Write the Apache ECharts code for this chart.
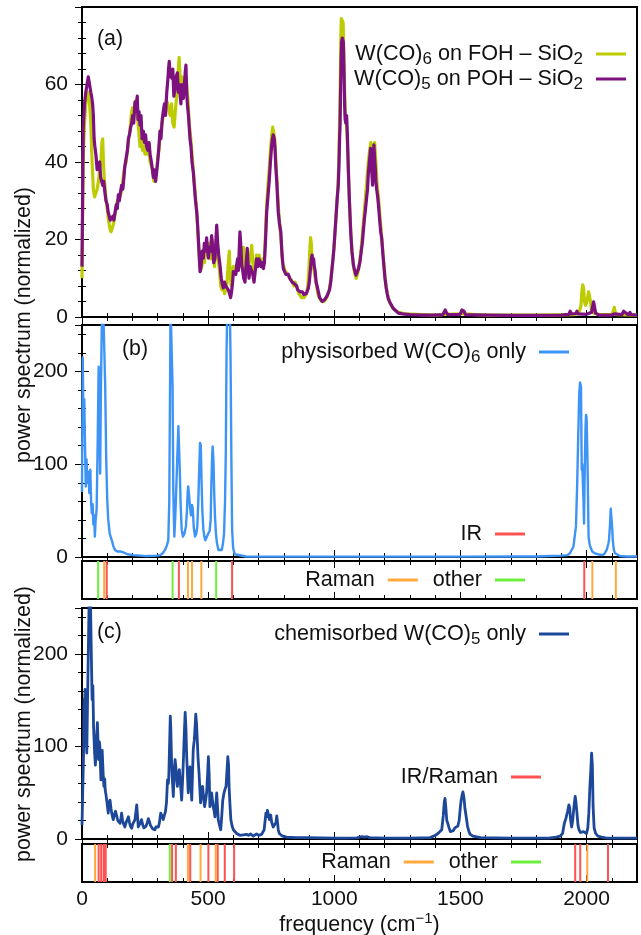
<!DOCTYPE html>
<html><head><meta charset="utf-8">
<script src="https://cdn.jsdelivr.net/npm/echarts@6/dist/echarts.min.js"></script>
<style>html,body{margin:0;padding:0;background:#fff}#c{width:641px;height:935px}</style>
</head><body><div id="c"></div>
<script>
// ---------------- data ----------------
const xTicks = [0, 500, 1000, 1500, 2000];
// panel (a): W(CO)6 on FOH-SiO2 (yellow-green)
const fohSpectrum = [[0,10],[3,30],[5,42],[10,50],[15,55],[20,57],[25,58],[30,55],[35,50],[40,40],[45,33],[50,31],[55,31],[60,33],[65,35],[70,38],[75,40],[79,45],[82,46],[85,40],[88,36],[92,33],[96,30],[100,28],[105,25],[110,23],[115,22],[120,22],[125,24],[130,26],[135,28],[140,30],[145,30],[150,31],[155,32],[160,34],[165,37],[170,39],[175,40],[180,43],[185,46],[190,48],[195,52],[200,54],[205,52],[210,55],[215,56],[220,52],[225,48],[230,44],[235,46],[240,43],[245,44],[250,42],[255,45],[260,42],[265,43],[270,40],[275,39],[280,38],[285,35],[290,36],[295,37],[300,41],[305,43],[310,47],[315,49],[320,51],[325,53],[330,54],[335,56],[340,55],[345,53],[350,52],[355,55],[360,50],[365,49],[370,53],[375,57],[380,62],[385,67],[388,63],[392,60],[396,62],[400,57],[405,60],[410,62],[415,60],[420,56],[425,50],[430,47],[435,43],[440,39],[445,35],[450,31],[455,27],[460,21],[465,16],[470,12],[475,13],[480,16],[485,14],[490,18],[495,16],[500,17],[505,19],[510,15],[515,20],[520,17],[525,13],[530,17],[535,20],[540,15],[545,12],[550,8],[555,7],[560,8],[565,6],[570,7],[575,9],[580,14],[584,17],[588,10],[592,8],[596,11],[600,13],[605,11],[610,13],[615,12],[620,14],[625,16],[630,13],[635,16],[640,18],[645,12],[650,14],[655,16],[660,13],[665,15],[670,17],[673,18.5],[677,14],[682,12],[687,13],[692,16],[697,14],[702,16],[707,14],[712,13],[717,15],[722,14],[727,21],[732,29],[737,34],[742,38],[747,43],[752,47],[756,49],[760,48.5],[764,46],[768,41],[772,36],[776,31],[780,27],[785,23],[790,19],[795,14],[800,13],[805,12],[810,12],[815,11],[820,11],[825,10],[830,10],[835,9],[840,8],[845,9],[850,8],[855,7],[860,6],[865,5.5],[870,5],[875,5],[880,5],[885,5],[890,6],[895,8],[899,12],[903,17],[906,20.5],[909,19],[912,15],[916,13],[920,12],[925,10],[930,8],[935,6],[940,5],[945,4.5],[950,4],[955,4],[960,4],[965,4.5],[970,5],[975,6],[980,7],[985,9],[990,12],[995,15],[1000,19],[1005,24],[1010,29],[1014,33],[1018,40],[1021,50],[1024,62],[1026,72],[1028,77],[1032,77],[1035,76],[1038,68],[1041,58],[1044,52],[1048,50],[1052,45],[1055,40],[1060,30],[1065,23],[1070,17],[1076,13],[1082,11],[1087,10],[1092,11],[1098,13],[1104,16],[1110,20],[1115,24],[1120,28],[1125,32],[1130,36],[1135,40],[1140,43],[1145,45],[1150,45],[1155,43],[1160,45],[1165,40],[1170,34],[1175,31],[1180,27],[1185,23],[1190,19],[1195,15],[1200,11],[1205,8],[1210,6],[1215,4.5],[1222,3.5],[1230,2.5],[1240,1.8],[1255,1.2],[1280,0.8],[1350,0.6],[1400,0.5],[1438,0.7],[1442,1.2],[1446,0.7],[1506,0.8],[1510,1.5],[1514,0.8],[1600,0.5],[1800,0.5],[1950,0.6],[1970,1],[1978,3],[1982,7],[1985,8.3],[1988,7.5],[1992,4],[1996,3],[2002,4],[2008,6.5],[2012,6.5],[2016,4],[2020,1.5],[2030,1],[2050,0.6],[2100,0.7],[2106,1.5],[2110,2.5],[2114,1.2],[2120,0.6],[2200,0.5]];
// panel (a): W(CO)5 on POH-SiO2 (purple)
const pohSpectrum = [[0,13],[3,35],[5,49],[10,55],[15,58],[20,60],[25,62],[30,60],[35,58],[38,57],[42,55],[45,52],[48,46],[51,44],[55,42],[60,38],[65,37.5],[70,40],[74,36],[78,36],[82,34],[86,35],[91,32],[95,30],[100,29],[104,27],[108,26],[112,25],[118,24.5],[122,26],[126,25],[131,27],[136,29],[140,28],[144,31.5],[148,30],[152,32],[157,34],[162,33],[166,36],[170,39],[175,41],[180,43],[184,46],[188,47],[193,49],[197,50],[201,52],[205,50],[210,55.5],[214,53],[219,57],[222,51],[226,53],[230,49.5],[234,52],[238,46],[243,48],[248,45],[252,47],[256,44],[261,43],[266,45],[270,42],[275,40],[279,38],[283,36],[287,38],[292,35],[296,37.5],[300,40],[305,44],[309,48],[313,46],[318,51],[322,53],[327,55],[331,52],[336,58],[340,61],[343,64],[346,66],[349,62],[353,63],[356,61.6],[360,64],[364,57],[369,59],[373,62],[378,63],[382,58],[386,60],[388,58],[392,55],[396,60],[399,58],[402,56.4],[406,60],[409,63],[412,65],[415,58],[418,54.7],[422,52],[425,49],[428,46],[432,44],[436,40],[441,37.5],[445,34],[450,30],[455,27],[458,24],[461,20.4],[465,15],[468,11.7],[472,13],[476,17],[481,15.2],[485,19],[490,17],[494,20.4],[497,18],[501,15.2],[505,18],[510,17],[514,21],[518,18],[522,14],[527,15.2],[531,20],[534,23.7],[538,19],[542,16],[547,13.4],[552,10],[556,8.5],[560,7.5],[565,9],[570,8],[575,8.5],[580,7],[585,6],[589,5],[593,6.5],[597,9],[600,11.7],[606,12],[610,11],[613,13.4],[617,15],[620,12],[623,17],[626,22],[630,18],[633,13.4],[637,12],[641,10],[646,9],[650,13],[655,17.7],[658,14],[662,10],[667,13],[673,12.5],[677,11],[682,9],[687,12],[692,15],[697,13],[701,15],[706,14.3],[710,13],[715,14],[719,12.5],[723,14],[727,19],[732,27],[737,31],[742,35],[747,40],[752,44.4],[755,46],[758,47],[762,46],[765,43.5],[768,39],[772,35],[775,31],[778,27],[783,24],[788,22],[793,16],[798,12.5],[803,12],[808,11],[813,11.5],[818,11],[823,10],[828,10.5],[833,9],[838,9],[843,8.5],[847,8],[851,8],[855,7],[860,7.5],[864,6.5],[869,6],[874,6.5],[879,5.8],[884,5.8],[889,6],[893,6.5],[897,7.4],[901,9],[905,12],[909,15],[912,16],[915,14],[918,15],[921,13],[924,12],[928,9],[932,8],[937,6.5],[942,5],[947,4.5],[952,4],[957,4],[962,4.5],[967,5],[972,5.5],[977,5.8],[981,7],[986,9],[990,11.7],[995,15],[999,18],[1003,22],[1008,27],[1012,31],[1016,34],[1019,40],[1021,46],[1023,49.5],[1025,58],[1027,66],[1029,71],[1032,72],[1036,71],[1039,62],[1041,55],[1043,51],[1046,50],[1049,52],[1052,47],[1054,42],[1056,37.5],[1060,30],[1065,22],[1070,17],[1076,13.4],[1081,12],[1086,10.8],[1091,11],[1096,12.5],[1102,14.3],[1107,17],[1111,19],[1115,22],[1119,25],[1124,28],[1128,30.6],[1132,33],[1135,37],[1139,40],[1142,42],[1144,43.5],[1147,39],[1150,36],[1152,34],[1155,39],[1157,44.4],[1160,41],[1163,38],[1165,35],[1168,33],[1172,31],[1175,29],[1180,25],[1184,22],[1188,20.3],[1193,16],[1197,13],[1201,10],[1206,7.5],[1210,6],[1214,4.8],[1220,3.8],[1227,3],[1234,2.2],[1244,1.6],[1254,1],[1270,0.8],[1300,0.6],[1350,0.5],[1400,0.5],[1430,0.6],[1436,1],[1440,1.8],[1444,1.2],[1450,0.6],[1490,0.6],[1500,0.8],[1506,1.8],[1510,2.3],[1514,1.5],[1520,0.6],[1600,0.5],[1700,0.4],[1800,0.4],[1900,0.5],[1930,0.7],[1935,1.5],[1940,0.8],[1958,0.9],[1962,1.5],[1966,0.8],[2000,0.7],[2020,1.2],[2025,3],[2028,3.9],[2032,2.5],[2036,1],[2050,0.5],[2100,0.5],[2110,0.8],[2116,0.6],[2140,0.6],[2147,1.5],[2150,2],[2154,1],[2165,0.6],[2172,1.2],[2176,0.6],[2200,0.5]];
// panel (b): physisorbed W(CO)6 only
const physiSpectrum = [[0,70],[3,215],[6,140],[9,170],[12,120],[15,76],[18,105],[21,80],[25,92],[29,69],[33,94],[36,60],[39,47],[42,57],[45,35],[48,45],[51,22],[54,40],[58,51],[62,120],[66,205],[69,150],[72,90],[75,180],[79,260],[84,270],[89,270],[92,184],[96,105],[100,62],[104,40],[110,25],[118,18],[125,11],[131,7.6],[140,6],[152,6],[164,5],[180,3],[203,2],[230,1.5],[256,1],[280,1.2],[300,1.5],[309,2],[320,4],[329,7.6],[336,12],[342,18],[346,60],[349,184],[351,270],[356,270],[359,184],[362,70],[366,22],[370,45],[374,76],[378,110],[382,141],[385,141],[388,90],[391,57],[395,30],[400,22],[406,25],[412,33],[416,50],[419,70],[421,76],[424,68],[428,54],[432,45],[436,56],[439,52],[443,32],[448,22],[453,25],[457,33],[461,60],[465,98],[468,123],[471,120],[474,80],[477,50],[481,30],[485,22],[489,18],[494,20],[500,25],[506,28],[510,40],[513,80],[516,110],[518,119],[521,105],[524,70],[527,45],[531,25],[535,15],[541,7.6],[548,6],[554,7.6],[559,15],[563,25],[567,60],[570,112],[573,220],[576,270],[586,270],[589,210],[592,110],[595,30],[599,10],[605,3],[612,1],[650,0.5],[800,0.4],[1000,0.4],[1200,0.4],[1500,0.4],[1700,0.5],[1800,0.6],[1850,1],[1900,1.5],[1925,2],[1934,4],[1948,11],[1958,33],[1963,80],[1967,130],[1971,175],[1974,188],[1976,186],[1978,184],[1980,120],[1981,94],[1983,100],[1985,98],[1988,60],[1990,36],[1992,80],[1994,112],[1996,140],[1998,153],[2000,150],[2003,116],[2006,60],[2008,22],[2012,14],[2015,11],[2022,6],[2033,4],[2045,3],[2060,2],[2070,3],[2080,7.6],[2086,14],[2089,18],[2093,35],[2096,52],[2098,53],[2100,50],[2102,30],[2104,18],[2108,8],[2113,4],[2120,2],[2133,1],[2160,0.5],[2200,0.5]];
// panel (c): chemisorbed W(CO)5 only
const chemiSpectrum = [[0,15],[3,17],[6,90],[8,151],[10,140],[12,162],[15,120],[19,93],[22,150],[25,202],[28,255],[31,262],[34,250],[37,200],[40,151],[43,166],[46,120],[50,93],[53,80],[55,89],[58,110],[61,126],[64,100],[66,86],[69,105],[71,100],[73,80],[75,64],[78,85],[80,96],[84,70],[87,57],[90,65],[92,53],[95,48],[98,42],[101,35],[104,28],[107,38],[111,42],[115,33],[118,28],[121,24],[124,21],[128,26],[133,30],[137,28],[142,20],[147,22],[151,17],[154,22],[157,28],[161,20],[165,16],[170,13],[175,18],[180,20],[184,24],[188,18],[192,14],[197,11.6],[201,16],[206,18],[210,21],[213,28],[217,37],[220,25],[223,13],[227,15],[232,18],[236,21],[240,16],[245,12],[250,10],[254,14],[259,18],[263,22],[267,19],[271,15],[276,13],[280,11],[285,12],[289,10],[293,13],[298,15],[303,13],[307,18],[312,28],[317,25],[322,21],[327,26],[331,30],[335,40],[339,64],[342,60],[344,67],[347,100],[350,133],[352,120],[355,85],[358,65],[362,46],[365,70],[369,86],[373,75],[376,62],[378,57],[382,68],[386,75],[390,60],[393,50],[395,42],[399,65],[402,86],[405,110],[409,137],[412,120],[415,89],[418,70],[421,50],[425,65],[428,78],[432,60],[435,42],[438,70],[441,97],[445,107],[448,120],[451,135],[454,125],[457,107],[460,88],[464,71],[467,55],[470,39],[474,50],[478,57],[482,45],[486,35],[490,42],[494,50],[498,70],[501,89],[504,70],[507,35],[510,42],[514,50],[517,42],[520,35],[524,30],[527,24],[530,35],[534,50],[537,35],[540,21],[545,15],[550,10],[554,25],[558,42],[563,50],[567,54],[571,57],[575,75],[578,89],[581,80],[583,57],[587,35],[590,21],[595,14],[600,10],[606,8],[613,6],[620,5],[626,4],[633,3],[640,4.5],[645,3],[652,5],[660,4],[668,5.5],[673,3.5],[679,3],[685,4],[692,5.5],[700,4],[706,4],[712,5],[717,7],[722,10],[726,20],[729,28],[732,24],[735,31],[739,26],[743,21],[748,26],[752,18],[758,13],[762,12],[765,13],[769,18],[772,25],[775,18],[778,10],[782,6],[785,4],[795,3],[811,2],[850,1.5],[890,1.5],[950,1.2],[1000,1],[1050,1],[1090,1.2],[1100,2],[1110,2.5],[1120,2],[1130,2.5],[1140,1.5],[1200,1],[1300,1],[1380,1.5],[1401,4],[1415,7],[1426,10],[1432,25],[1436,40],[1439,44],[1442,35],[1446,20],[1450,17],[1455,12],[1460,8],[1466,10],[1472,9],[1478,12],[1485,13],[1490,14],[1495,20],[1500,35],[1503,42],[1507,48],[1510,51],[1514,45],[1518,33],[1523,24],[1528,14],[1534,8],[1539,5],[1550,3],[1580,1.5],[1700,1],[1850,1],[1880,2],[1895,3],[1905,6],[1912,17],[1918,22],[1925,30],[1930,37],[1933,34],[1937,20],[1941,13],[1945,20],[1950,35],[1955,46],[1958,40],[1962,28],[1966,15],[1970,10],[1976,7],[1982,7],[1988,8],[1994,7],[2000,6],[2005,12],[2009,28],[2013,55],[2017,75],[2020,93],[2023,80],[2026,35],[2030,12],[2036,6],[2045,3],[2060,2],[2080,1],[2200,1]];
// stick spectra (mode frequencies)
const sticksB_IR = [98, 384, 595, 1991];
const sticksB_Raman = [88, 420, 436, 473, 2023, 2116];
const sticksB_other = [64, 359, 532];
const sticksC_IRRaman = [66, 76, 86, 94, 357, 372, 429, 501, 538, 566, 603, 1955, 1975, 2085];
const sticksC_Raman = [52, 420, 470, 530, 2003];
const sticksC_other = [348];

// ---------------- chart ----------------
const FONT = '"Liberation Sans", Arial, Helvetica, sans-serif';
const TXT = '#111';
const COL = {foh:'#bccc00', poh:'#7d117f', physi:'#3d94f6', chemi:'#1d4899', red:'#ff5252', orange:'#ffa83c', green:'#6cf03c'};
const X0 = 82, W = 555;
const gridDefs = [
  {top:7,   height:310, yMax:80,  yMajor:20,  yMinor:4},
  {top:325, height:232, yMax:250, yMajor:100, yMinor:20},
  {top:561, height:38,  stick:true},
  {top:608, height:231, yMax:250, yMajor:100, yMinor:20},
  {top:844, height:38,  stick:true}
];
const grid = [], xAxis = [], yAxis = [], xIdx = [], yIdx = [];
const tickStyle = {color:'#000', width:1};
const plainNum = v => String(v);
gridDefs.forEach((g, i) => {
  grid.push({left:X0, width:W, top:g.top, height:g.height, show:true, borderColor:'#000', borderWidth:2,
             backgroundColor:'rgba(0,0,0,0)', containLabel:false, outerBoundsMode:'none'});
  const mkX = (pos, interval, len, labels) => ({
    gridIndex:i, type:'value', min:0, max:2200, interval, position:pos,
    axisLine:{show:false}, splitLine:{show:false},
    axisTick:{show:true, inside:true, length:len, lineStyle:tickStyle},
    axisLabel:{show:labels, fontSize:21, fontFamily:FONT, color:TXT, margin:7, showMaxLabel:false, formatter:plainNum}
  });
  xIdx[i] = xAxis.length;
  const xb = mkX('bottom', 500, 7, i === 4);
  if (i === 4) {
    xb.name = '{t|frequency (cm}{p|−1}{t|)}';
    xb.nameLocation = 'middle';
    xb.nameGap = 27;
    xb.nameTextStyle = {rich:{
      t:{fontSize:21.5, fontFamily:FONT, color:TXT, lineHeight:28},
      p:{fontSize:15, fontFamily:FONT, color:TXT, lineHeight:15, verticalAlign:'top'}}};
  }
  xAxis.push(xb, mkX('bottom', 100, 4, false), mkX('top', 500, 7, false), mkX('top', 100, 4, false));
  yIdx[i] = yAxis.length;
  if (g.stick) {
    yAxis.push({gridIndex:i, type:'value', min:0, max:1, show:false, splitLine:{show:false}});
  } else {
    const mkY = (pos, interval, len, labels) => ({
      gridIndex:i, type:'value', min:0, max:g.yMax, interval, position:pos,
      axisLine:{show:false}, splitLine:{show:false},
      axisTick:{show:true, inside:true, length:len, lineStyle:tickStyle},
      axisLabel:{show:labels, fontSize:21, fontFamily:FONT, color:TXT, margin:14, showMaxLabel:false, formatter:plainNum}
    });
    yAxis.push(mkY('left', g.yMajor, 7, true), mkY('left', g.yMinor, 4, false),
               mkY('right', g.yMajor, 7, false), mkY('right', g.yMinor, 4, false));
  }
});

const stickData = xs => xs.flatMap(x => [[x, 0], [x, 1], [x, '-']]);
const curve = (name, gi, data, color, width, z) => ({
  name, type:'line', xAxisIndex:xIdx[gi], yAxisIndex:yIdx[gi], data, color,
  showSymbol:false, symbol:'none', clip:true, z,
  lineStyle:{color, width, join:'round'}, emphasis:{disabled:true}
});
const series = [
  curve('foh', 0, fohSpectrum, COL.foh, 3.2, 2),
  curve('poh', 0, pohSpectrum, COL.poh, 3.2, 3),
  curve('physi', 1, physiSpectrum, COL.physi, 2.4, 2),
  curve('IR', 2, stickData(sticksB_IR), COL.red, 2, 3),
  curve('RamanB', 2, stickData(sticksB_Raman), COL.orange, 2, 3),
  curve('otherB', 2, stickData(sticksB_other), COL.green, 2, 3),
  curve('chemi', 3, chemiSpectrum, COL.chemi, 2.8, 2),
  curve('IRRaman', 4, stickData(sticksC_IRRaman), COL.red, 2, 3),
  curve('RamanC', 4, stickData(sticksC_Raman), COL.orange, 2, 3),
  curve('otherC', 4, stickData(sticksC_other), COL.green, 2, 3)
];

const legendText = {
  foh:'{t|W(CO)}{s|6}{t| on FOH – SiO}{s|2}',
  poh:'{t|W(CO)}{s|5}{t| on POH – SiO}{s|2}',
  physi:'{t|physisorbed W(CO)}{s|6}{t| only}',
  chemi:'{t|chemisorbed W(CO)}{s|5}{t| only}',
  IR:'{t|IR}', RamanB:'{t|Raman}', otherB:'{t|other}',
  IRRaman:'{t|IR/Raman}', RamanC:'{t|Raman}', otherC:'{t|other}'
};
const rich = {
  t:{fontSize:21.6, fontFamily:FONT, color:TXT, lineHeight:28},
  s:{fontSize:17, fontFamily:FONT, color:TXT, lineHeight:15, verticalAlign:'bottom'}
};
const mkLegend = (data, right, top, extra) => Object.assign({
  data, right, top, orient:'horizontal', align:'right', icon:'rect',
  itemWidth:30, itemHeight:3, itemGap:15, padding:0, selectedMode:false,
  formatter: n => legendText[n],
  textStyle:{color:TXT, fontFamily:FONT, fontSize:21.6, padding:[0,8,0,0], rich}
}, extra || {});
const legend = [
  mkLegend(['foh', 'poh'], 15, 43, {orient:'vertical', itemGap:0}),
  mkLegend(['physi'], 72, 341),
  mkLegend(['IR'], 116, 523),
  mkLegend(['RamanB', 'otherB'], 116, 569),
  mkLegend(['chemi'], 72, 623),
  mkLegend(['IRRaman'], 100, 766),
  mkLegend(['RamanC', 'otherC'], 100, 851)
];

const txt = (text, x, y, rot, align) => ({
  type:'text', x, y, rotation:rot || 0, z:10,
  style:{text, fontSize:21.3, fontFamily:FONT, fill:TXT, align:align || 'left', verticalAlign:'middle'}
});
const graphic = [
  txt('power spectrum (normalized)', 24, 325, Math.PI / 2, 'center'),
  txt('power spectrum (normalized)', 24, 724, Math.PI / 2, 'center'),
  txt('(a)', 97, 39),
  txt('(b)', 122, 349),
  txt('(c)', 97, 632)
];

const chart = echarts.init(document.getElementById('c'), null, {renderer:'canvas'});
chart.setOption({animation:false, backgroundColor:'#fff', grid, xAxis, yAxis, series, legend, graphic});
</script>
</body></html>
